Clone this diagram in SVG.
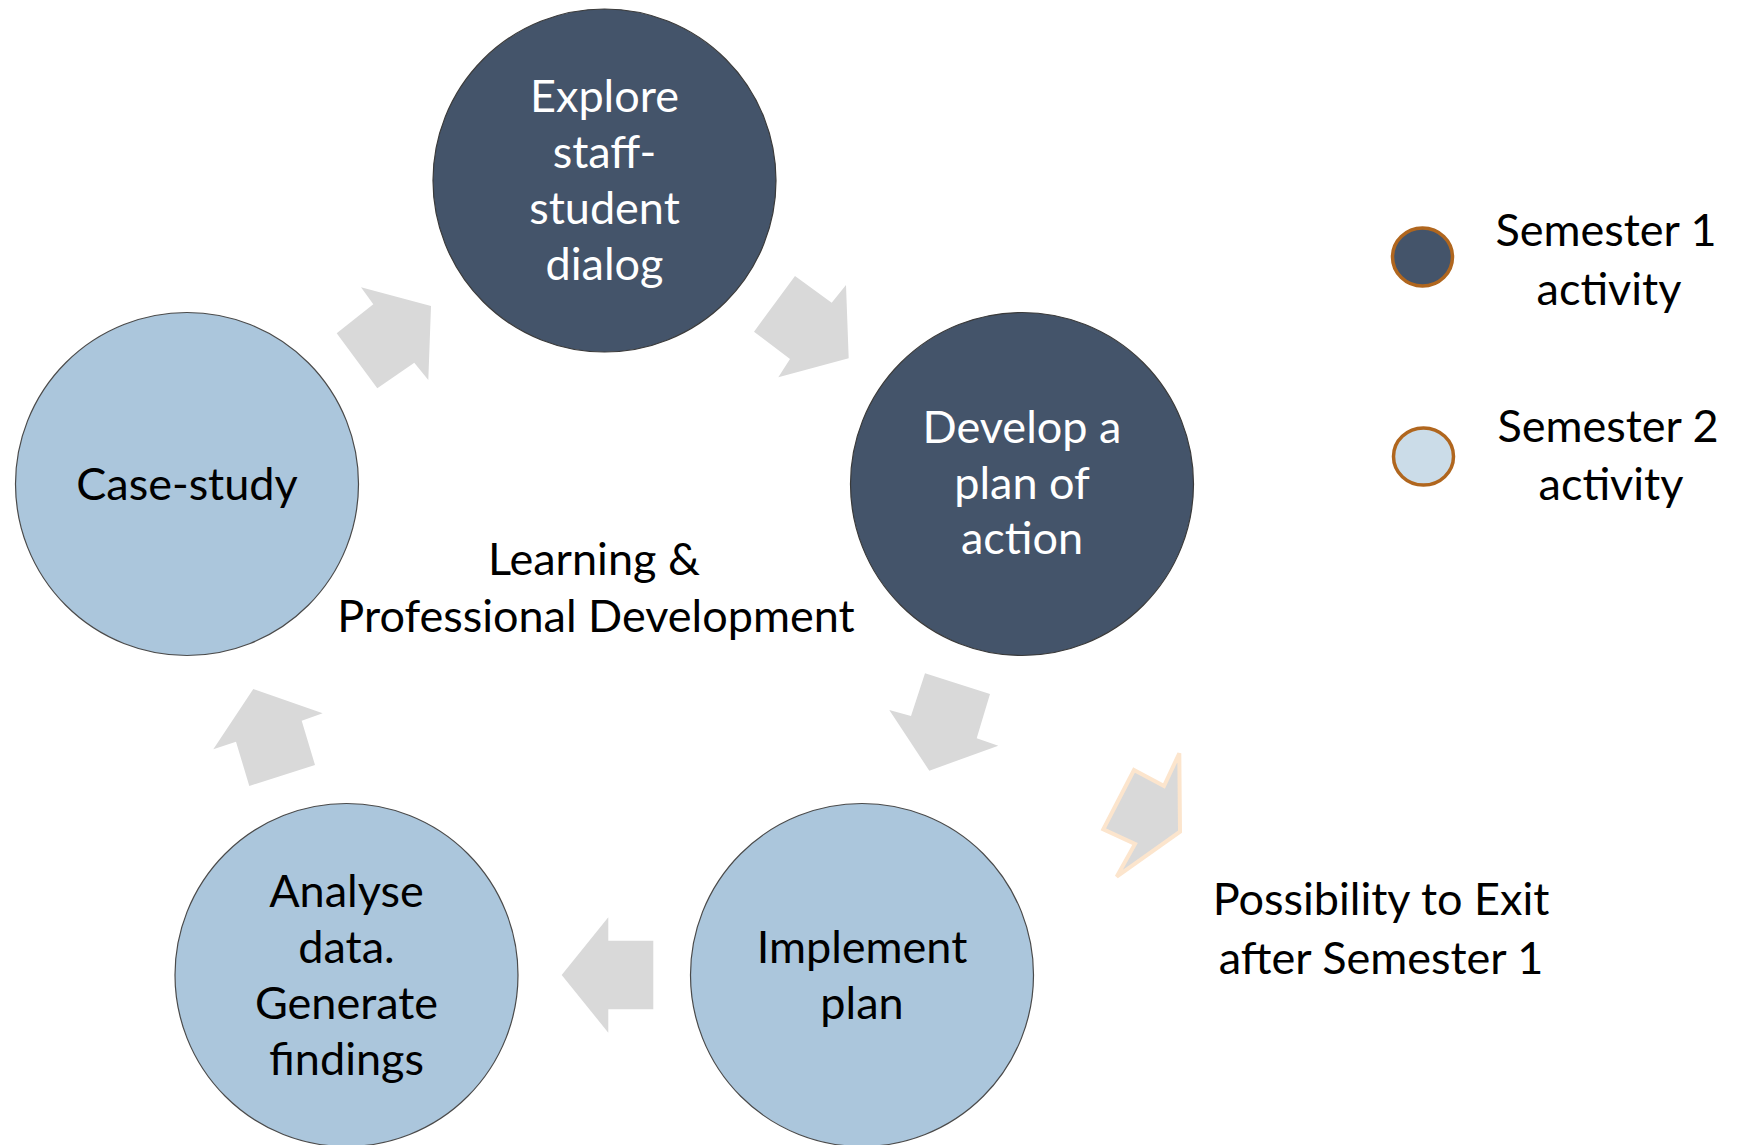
<svg xmlns="http://www.w3.org/2000/svg" width="1749" height="1145" viewBox="0 0 1749 1145">
<style>
  .t { font-family: Lato, "Open Sans", "Liberation Sans", sans-serif; font-size: 45px; text-anchor: middle; }
  .dark { fill: #44546A; stroke: #3a3a3a; stroke-width: 1.2; }
  .light { fill: #ABC6DC; stroke: #4a4a4a; stroke-width: 1.2; }
  .wt { fill: #FFFFFF; }
  .bt { fill: #000000; }
  .arrow { fill: #D9D9D9; stroke: none; }
  .exit { fill: #D9D9D9; stroke: #FCE5CD; stroke-width: 4; stroke-linejoin: miter; }
  .leg { stroke: #B0661E; stroke-width: 3.5; }
</style>
<rect width="1749" height="1145" fill="#FFFFFF"/>

<g id="connectors">
  <polygon class="arrow" points="361,287.3 373.3,304.3 336.7,333.3 377.3,388.3 414.3,362.7 428.3,380 431,306"/>
  <polygon class="arrow" points="795,276 831.7,302.7 846,285 848.7,358.3 778.3,377.3 790,359 754,331.7"/>
  <polygon class="arrow" points="925,673.3 990,694 976.7,738.3 998.3,745.7 929.3,770.7 889.3,710 911,716"/>
  <polygon class="exit" points="1134,770 1164,786 1179.3,753.3 1180,831.7 1116.7,876.7 1135,844 1103.3,829.3"/>
  <polygon class="arrow" points="608.3,917.3 608.3,940.7 653.3,940.7 653.3,1009.3 608.3,1009.3 608.3,1032.7 561.7,975"/>
  <polygon class="arrow" points="253.3,689 322.7,713.3 301.7,720.7 315,765 249.3,786 236,741.7 213.3,749.3"/>
</g>

<g id="node-explore">
  <circle class="dark" cx="604.5" cy="180.5" r="171.5"/>
  <text class="t wt" x="604.5" y="111.5">Explore</text>
  <text class="t wt" x="604.5" y="167.5">staff-</text>
  <text class="t wt" x="604.5" y="223.5">student</text>
  <text class="t wt" x="604.5" y="279.5">dialog</text>
</g>

<g id="node-develop">
  <circle class="dark" cx="1022" cy="484" r="171.5"/>
  <text class="t wt" x="1022" y="443">Develop a</text>
  <text class="t wt" x="1022" y="498.5">plan of</text>
  <text class="t wt" x="1022" y="554">action</text>
</g>

<g id="node-case">
  <circle class="light" cx="187" cy="484" r="171.5"/>
  <text class="t bt" x="187" y="500">Case-study</text>
</g>

<g id="node-analyse">
  <circle class="light" cx="346.5" cy="975" r="171.5"/>
  <text class="t bt" x="346.5" y="907">Analyse</text>
  <text class="t bt" x="346.5" y="963">data.</text>
  <text class="t bt" x="346.5" y="1019">Generate</text>
  <text class="t bt" x="346.5" y="1075">findings</text>
</g>

<g id="node-implement">
  <circle class="light" cx="862" cy="975" r="171.5"/>
  <text class="t bt" x="862" y="963">Implement</text>
  <text class="t bt" x="862" y="1019">plan</text>
</g>

<g id="label-center">
  <text class="t bt" x="594" y="575">Learning &amp;</text>
  <text class="t bt" x="596" y="632">Professional Development</text>
</g>

<g id="label-exit">
  <text class="t bt" x="1381" y="915">Possibility to Exit</text>
  <text class="t bt" x="1381" y="974">after Semester 1</text>
</g>

<g id="legend-sem1">
  <ellipse class="leg" cx="1422.5" cy="257" rx="30" ry="29" fill="#44546A"/>
  <text class="t bt" x="1606" y="246">Semester 1</text>
  <text class="t bt" x="1609" y="305">activity</text>
</g>

<g id="legend-sem2">
  <ellipse class="leg" cx="1423.5" cy="456.5" rx="30" ry="28.5" fill="#CBDCE8"/>
  <text class="t bt" x="1608" y="442">Semester 2</text>
  <text class="t bt" x="1611" y="500">activity</text>
</g>
</svg>
